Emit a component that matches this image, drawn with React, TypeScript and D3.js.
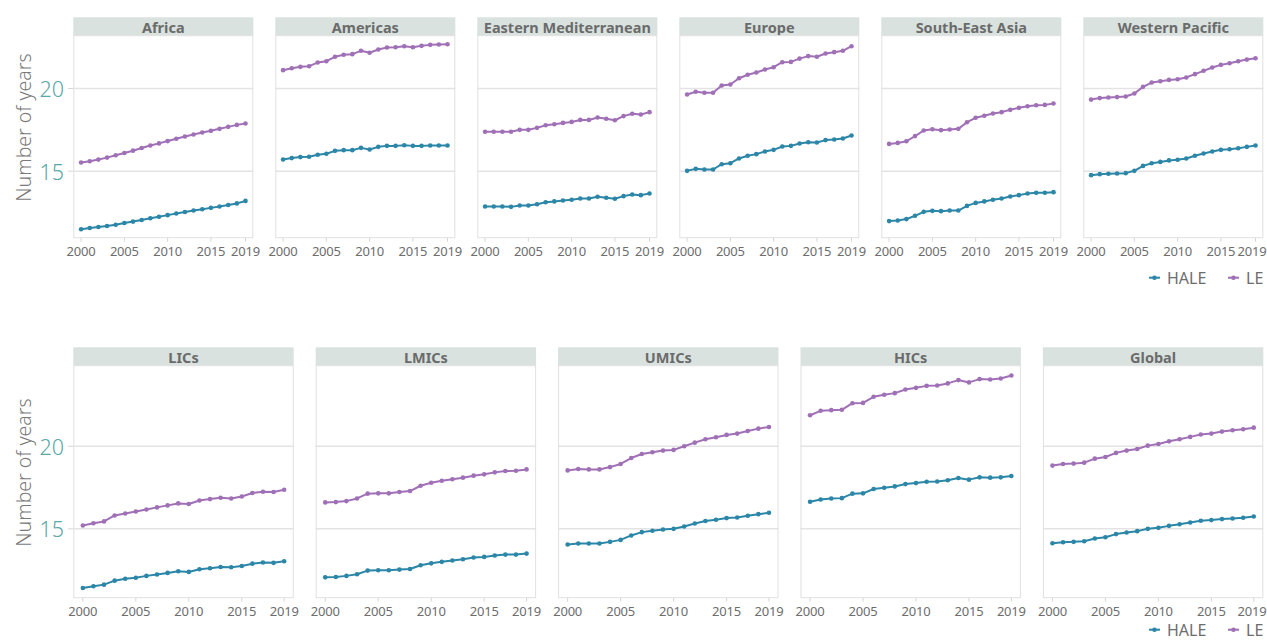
import React from "react";
import * as d3 from "d3";

const years = [2000, 2001, 2002, 2003, 2004, 2005, 2006, 2007, 2008, 2009, 2010, 2011, 2012, 2013, 2014, 2015, 2016, 2017, 2018, 2019];
const xTickYears = [2000, 2005, 2010, 2015, 2019];
const yTicks = [15, 20];
const seriesNames = ["HALE", "LE"];
const seriesColors = ["#2b86a7", "#a070b6"];

const regionNames = ["Africa", "Americas", "Eastern Mediterranean", "Europe", "South-East Asia", "Western Pacific"];
const incomeNames = ["LICs", "LMICs", "UMICs", "HICs", "Global"];

// Life expectancy (LE) and healthy life expectancy (HALE) at age 60, by region
const africaLE = [15.52, 15.6, 15.7, 15.82, 15.96, 16.1, 16.24, 16.4, 16.55, 16.68, 16.82, 16.96, 17.1, 17.22, 17.34, 17.44, 17.56, 17.68, 17.8, 17.88];
const africaHALE = [11.49, 11.56, 11.62, 11.68, 11.76, 11.86, 11.95, 12.05, 12.15, 12.24, 12.34, 12.44, 12.53, 12.62, 12.7, 12.78, 12.86, 12.95, 13.05, 13.2];
const americasLE = [21.11, 21.23, 21.31, 21.35, 21.57, 21.65, 21.92, 22.04, 22.08, 22.28, 22.16, 22.36, 22.48, 22.5, 22.56, 22.5, 22.58, 22.64, 22.66, 22.68];
const americasHALE = [15.71, 15.79, 15.85, 15.87, 15.99, 16.05, 16.23, 16.27, 16.27, 16.41, 16.31, 16.47, 16.53, 16.53, 16.57, 16.53, 16.53, 16.55, 16.55, 16.55];
const emedLE = [17.38, 17.38, 17.38, 17.38, 17.5, 17.5, 17.62, 17.78, 17.84, 17.92, 17.98, 18.1, 18.1, 18.25, 18.17, 18.08, 18.33, 18.47, 18.43, 18.57];
const emedHALE = [12.86, 12.86, 12.86, 12.84, 12.92, 12.92, 13.0, 13.12, 13.17, 13.23, 13.27, 13.35, 13.35, 13.45, 13.39, 13.33, 13.49, 13.59, 13.55, 13.65];
const europeLE = [19.64, 19.8, 19.74, 19.74, 20.18, 20.24, 20.62, 20.83, 20.97, 21.15, 21.29, 21.59, 21.61, 21.81, 21.96, 21.92, 22.12, 22.2, 22.28, 22.56];
const europeHALE = [15.02, 15.14, 15.1, 15.1, 15.42, 15.48, 15.77, 15.93, 16.03, 16.19, 16.29, 16.49, 16.53, 16.67, 16.75, 16.73, 16.88, 16.92, 16.98, 17.16];
const seaLE = [16.65, 16.71, 16.81, 17.12, 17.46, 17.54, 17.48, 17.52, 17.56, 17.96, 18.23, 18.35, 18.49, 18.57, 18.71, 18.83, 18.93, 18.99, 19.01, 19.09];
const seaHALE = [11.98, 12.02, 12.1, 12.3, 12.54, 12.6, 12.58, 12.62, 12.62, 12.9, 13.08, 13.17, 13.27, 13.35, 13.47, 13.55, 13.65, 13.69, 13.69, 13.73];
const wpacLE = [19.33, 19.42, 19.46, 19.48, 19.52, 19.7, 20.1, 20.36, 20.44, 20.52, 20.56, 20.67, 20.87, 21.07, 21.27, 21.43, 21.53, 21.65, 21.75, 21.83];
const wpacHALE = [14.76, 14.82, 14.84, 14.86, 14.88, 15.02, 15.32, 15.48, 15.56, 15.65, 15.69, 15.77, 15.93, 16.07, 16.19, 16.29, 16.33, 16.39, 16.47, 16.55];

const licLE = [15.2, 15.34, 15.45, 15.81, 15.93, 16.05, 16.17, 16.3, 16.42, 16.54, 16.5, 16.72, 16.8, 16.88, 16.84, 16.96, 17.17, 17.25, 17.23, 17.37];
const licHALE = [11.42, 11.52, 11.62, 11.86, 11.98, 12.04, 12.15, 12.23, 12.33, 12.43, 12.39, 12.55, 12.61, 12.69, 12.67, 12.75, 12.89, 12.96, 12.94, 13.04];
const lmicLE = [16.6, 16.62, 16.68, 16.84, 17.13, 17.15, 17.15, 17.23, 17.29, 17.61, 17.79, 17.91, 18.0, 18.1, 18.22, 18.3, 18.42, 18.5, 18.52, 18.6];
const lmicHALE = [12.06, 12.08, 12.15, 12.25, 12.47, 12.49, 12.49, 12.53, 12.57, 12.79, 12.91, 13.0, 13.08, 13.16, 13.26, 13.3, 13.38, 13.44, 13.44, 13.5];
const umicLE = [18.54, 18.62, 18.6, 18.6, 18.74, 18.93, 19.29, 19.53, 19.64, 19.74, 19.78, 20.0, 20.22, 20.43, 20.55, 20.69, 20.77, 20.93, 21.07, 21.17];
const umicHALE = [14.05, 14.11, 14.11, 14.11, 14.21, 14.33, 14.6, 14.8, 14.88, 14.96, 15.0, 15.14, 15.32, 15.47, 15.55, 15.65, 15.69, 15.79, 15.89, 15.97];
const hicLE = [21.88, 22.15, 22.19, 22.21, 22.61, 22.63, 23.0, 23.12, 23.22, 23.44, 23.54, 23.66, 23.68, 23.81, 24.01, 23.87, 24.07, 24.05, 24.11, 24.29];
const hicHALE = [16.64, 16.78, 16.84, 16.86, 17.13, 17.15, 17.41, 17.49, 17.57, 17.71, 17.77, 17.85, 17.87, 17.94, 18.08, 17.98, 18.12, 18.1, 18.12, 18.2];
const globalLE = [18.83, 18.93, 18.95, 19.01, 19.25, 19.35, 19.6, 19.74, 19.84, 20.04, 20.14, 20.3, 20.43, 20.57, 20.71, 20.77, 20.89, 20.97, 21.03, 21.13];
const globalHALE = [14.13, 14.19, 14.21, 14.25, 14.41, 14.49, 14.68, 14.78, 14.86, 15.0, 15.06, 15.18, 15.28, 15.38, 15.49, 15.53, 15.59, 15.63, 15.67, 15.75];

const regionHALE = [africaHALE, americasHALE, emedHALE, europeHALE, seaHALE, wpacHALE];
const regionLE = [africaLE, americasLE, emedLE, europeLE, seaLE, wpacLE];
const incomeHALE = [licHALE, lmicHALE, umicHALE, hicHALE, globalHALE];
const incomeLE = [licLE, lmicLE, umicLE, hicLE, globalLE];

const W = 1267;
const H = 642;
const FONT = "'Noto Sans', 'Open Sans', sans-serif";

type RowProps = {
  names: string[];
  hale: number[][];
  le: number[][];
  top: number;
  bottom: number;
  paddingInner: number;
  legendOffset: number;
};

function Row({ names, hale, le, top, bottom, paddingInner, legendOffset }: RowProps) {
  const headerH = 18.4;
  const plotTop = top + headerH;
  const panel = d3.scaleBand<string>().domain(names).range([73.3, 1263.3]).paddingInner(paddingInner).paddingOuter(0);
  const all = [...hale.flat(), ...le.flat()];
  const [mn, mx] = d3.extent(all) as [number, number];
  const pad = (mx - mn) * 0.046;
  const y = d3.scaleLinear().domain([mn - pad, mx + pad]).range([bottom, plotTop]);
  const bw = panel.bandwidth();
  const legendY = bottom + legendOffset;

  return (
    <g>
      <text
        transform={`translate(23,${(top + bottom) / 2}) rotate(-90)`}
        textAnchor="middle"
        dominantBaseline="central"
        fontSize={19.5}
        fill="#7a7a7a"
        fontFamily={FONT}
        fontWeight={300}
      >
        Number of years
      </text>
      {yTicks.map((t) => (
        <g key={t}>
          <text x={64} y={y(t)} textAnchor="end" dominantBaseline="central" fontSize={21.5} fill="#5aa8a8" fontFamily={FONT} fontWeight={300}>
            {t}
          </text>
          <line x1={68} x2={73.3} y1={y(t)} y2={y(t)} stroke="#d6d6d6" strokeWidth={1} />
        </g>
      ))}
      {names.map((name, i) => {
        const x0 = panel(name)!;
        const x = d3.scalePoint<number>().domain(years).range([x0, x0 + bw]).padding(0.9);
        const series = [hale[i], le[i]];
        return (
          <g key={name}>
            <rect x={x0} y={top} width={bw} height={headerH} fill="#d9e2df" />
            <text x={x0 + bw / 2} y={top + headerH / 2 + 0.5} textAnchor="middle" dominantBaseline="central" fontSize={14.5} fontWeight={700} fill="#6b6b6b" fontFamily={FONT}>
              {name}
            </text>
            <rect x={x0 + 0.5} y={plotTop} width={bw - 1} height={bottom - plotTop} fill="#fff" stroke="#e0e0e0" strokeWidth={1} />
            {yTicks.map((t) => (
              <line key={t} x1={x0} x2={x0 + bw} y1={y(t)} y2={y(t)} stroke="#e3e3e3" strokeWidth={1.5} />
            ))}
            {xTickYears.map((yr) => {
              const tx = x(yr)!;
              const overflow = tx + 14 > W - 1;
              return (
                <g key={yr}>
                  <line x1={tx} x2={tx} y1={bottom} y2={bottom + 4} stroke="#d6d6d6" />
                  <text
                    x={overflow ? W - 0.5 : tx}
                    y={bottom + 18}
                    textAnchor={overflow ? "end" : "middle"}
                    fontSize={13}
                    letterSpacing={-0.2}
                    fill="#6d6d6d"
                    fontFamily={FONT}
                  >
                    {yr}
                  </text>
                </g>
              );
            })}
            {series.map((vals, si) => {
              const pts = years.map((yr, k) => [x(yr)!, y(vals[k])] as [number, number]);
              const path = d3.line()(pts)!;
              return (
                <g key={si}>
                  <path d={path} fill="none" stroke={seriesColors[si]} strokeWidth={2} strokeLinejoin="round" />
                  {pts.map((p, k) => (
                    <circle key={k} cx={p[0]} cy={p[1]} r={2.3} fill={seriesColors[si]} />
                  ))}
                </g>
              );
            })}
          </g>
        );
      })}
      {seriesNames.map((s, i) => {
        const lx = [1149, 1228][i];
        return (
          <g key={s}>
            <line x1={lx} x2={lx + 11} y1={legendY} y2={legendY} stroke={seriesColors[i]} strokeWidth={2} />
            <circle cx={lx + 5.5} cy={legendY} r={2.3} fill={seriesColors[i]} />
            <text x={lx + 18} y={legendY} dominantBaseline="central" fontSize={16} fill="#6d6d6d" fontFamily={FONT}>
              {s}
            </text>
          </g>
        );
      })}
    </g>
  );
}

export default function App() {
  return (
    <div style={{ position: "absolute", left: 0, top: 0 }}>
      <svg width={W} height={H} style={{ display: "block", background: "#fff" }}>
        <Row names={regionNames} hale={regionHALE} le={regionLE} top={17.3} bottom={237.7} paddingInner={22 / 202} legendOffset={40} />
        <Row names={incomeNames} hale={incomeHALE} le={incomeLE} top={347.3} bottom={597.7} paddingInner={22 / 242.4} legendOffset={32} />
      </svg>
    </div>
  );
}
